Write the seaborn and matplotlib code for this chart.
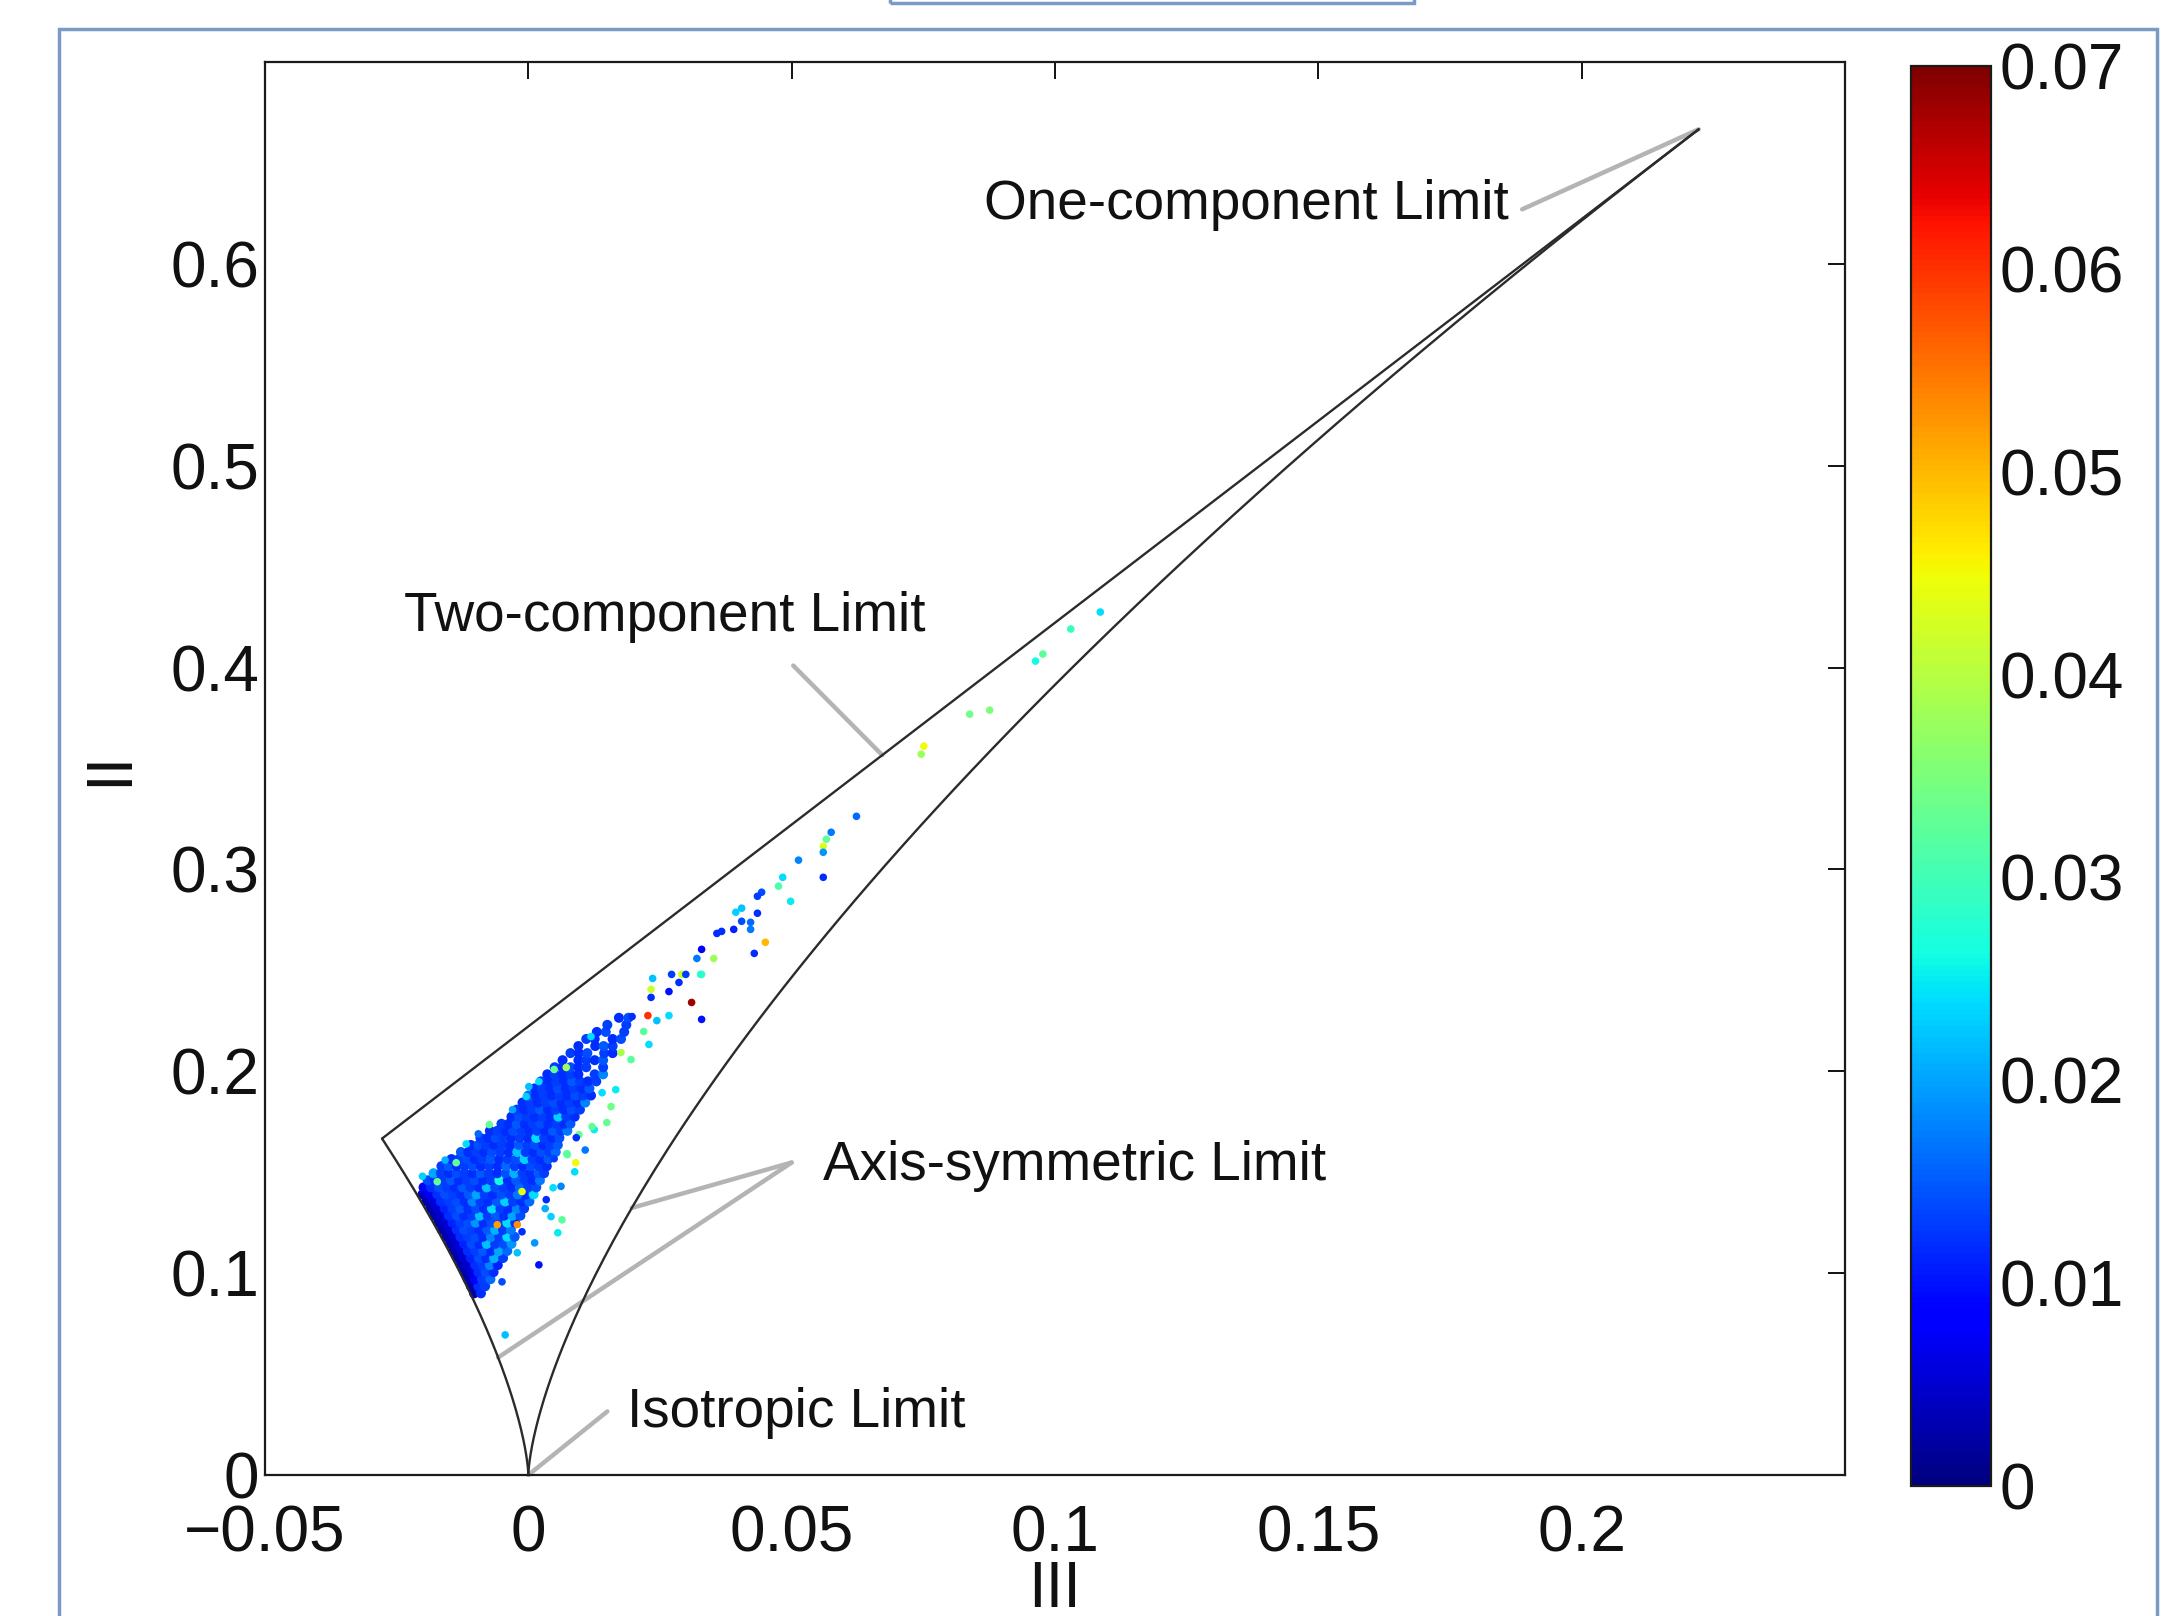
import numpy as np
import pandas as pd
import matplotlib
matplotlib.use("Agg")
import matplotlib.pyplot as plt
import seaborn as sns
from matplotlib.patches import Rectangle
from matplotlib.cm import ScalarMappable
from matplotlib.colors import Normalize

# Corners of the anisotropy-invariant map (III, II)
ISO = (0.0, 0.0)
TWO_C_AXI = (-1 / 36, 1 / 6)
ONE_C = (2 / 9, 2 / 3)

# Dense part of the cloud, row by row: II level, III positions (x1e-3), colour values (x1e-3)
core_II = [0.0900, 0.0935, 0.0970, 0.1005, 0.1040, 0.1075, 0.1110, 0.1145, 0.1180, 0.1215,
           0.1250, 0.1285, 0.1320, 0.1355, 0.1390, 0.1425, 0.1460, 0.1495, 0.1530, 0.1565,
           0.1600, 0.1635, 0.1670, 0.1705, 0.1740, 0.1775, 0.1810, 0.1845, 0.1880, 0.1915,
           0.1950, 0.1985, 0.2020, 0.2055, 0.2090, 0.2125, 0.2160, 0.2195, 0.2230, 0.2265]
core_III = [
    [-10.3, -9.0],
    [-10.9, -9.5, -8.2],
    [-11.5, -10.2, -8.8, -7.2],
    [-12.1, -10.8, -9.5, -8.1, -6.6],
    [-12.8, -11.5, -10.1, -8.7, -7.3, -5.8],
    [-13.5, -12.2, -10.9, -9.4, -8.0, -6.5, -4.8],
    [-14.2, -12.9, -11.5, -10.1, -8.6, -7.1, -5.6, -4.0],
    [-14.9, -13.6, -12.2, -10.8, -9.3, -7.9, -6.3, -4.7, -3.2],
    [-15.6, -14.3, -12.9, -11.5, -10.0, -8.6, -7.1, -5.5, -4.0, -2.6],
    [-16.4, -15.0, -13.6, -12.2, -10.7, -9.3, -7.8, -6.3, -4.8, -3.3],
    [-17.1, -15.8, -14.4, -12.9, -11.4, -10.0, -8.5, -7.0, -5.5, -4.0, -2.5],
    [-17.9, -16.5, -15.1, -13.6, -12.2, -10.7, -9.2, -7.7, -6.2, -4.6, -3.0, -1.5],
    [-18.6, -17.3, -15.9, -14.4, -12.9, -11.4, -9.9, -8.4, -6.9, -5.3, -3.8, -2.2, -0.8],
    [-19.4, -18.0, -16.6, -15.1, -13.6, -12.1, -10.6, -9.1, -7.6, -6.0, -4.4, -2.9, -1.3, 0.2],
    [-20.1, -18.8, -17.3, -15.8, -14.3, -12.8, -11.3, -9.8, -8.3, -6.7, -5.1, -3.5, -2.0, -0.4, 1.0],
    [-19.9, -18.5, -17.0, -15.5, -14.0, -12.5, -11.0, -9.4, -7.9, -6.3, -4.7, -3.1, -1.6, 0.0, 1.5],
    [-19.1, -17.7, -16.2, -14.7, -13.2, -11.7, -10.2, -8.6, -7.1, -5.5, -3.9, -2.3, -0.7, 0.8, 2.2],
    [-18.0, -16.6, -15.1, -13.6, -12.1, -10.6, -9.0, -7.5, -5.9, -4.3, -2.7, -1.1, 0.4, 1.9, 3.0],
    [-16.5, -15.1, -13.6, -12.1, -10.5, -9.0, -7.4, -5.8, -4.2, -2.6, -1.0, 0.5, 2.0, 3.5],
    [-14.6, -13.2, -11.7, -10.2, -8.7, -7.1, -5.5, -3.9, -2.3, -0.7, 0.8, 2.3, 3.8],
    [-12.8, -11.4, -9.9, -8.4, -6.9, -5.3, -3.7, -2.1, -0.5, 1.0, 2.5, 4.0, 5.2],
    [-10.9, -9.5, -8.0, -6.5, -5.0, -3.4, -1.8, -0.2, 1.3, 2.8, 4.2, 5.6],
    [-9.1, -7.7, -6.2, -4.7, -3.2, -1.6, 0.0, 1.5, 3.0, 4.5, 5.9],
    [-7.3, -5.9, -4.4, -2.9, -1.3, 0.2, 1.7, 3.2, 4.7, 6.2, 7.4],
    [-5.1, -3.7, -2.2, -0.7, 0.8, 2.3, 3.8, 5.3, 6.8, 8.0],
    [-3.2, -1.8, -0.3, 1.2, 2.7, 4.2, 5.7, 7.2, 8.8],
    [-2.2, -0.8, 0.7, 2.2, 3.7, 5.2, 6.7, 8.2, 9.8],
    [-1.1, 0.3, 1.8, 3.3, 4.8, 6.3, 7.8, 9.3, 10.8],
    [0.0, 1.4, 2.9, 4.4, 5.9, 7.4, 8.9, 10.4, 11.9],
    [1.2, 2.6, 4.1, 5.6, 7.1, 8.6, 10.1, 11.6],
    [2.4, 3.8, 5.3, 6.8, 8.3, 9.8, 11.3, 12.9],
    [3.6, 5.0, 6.5, 8.0, 9.5, 12.6, 14.2],
    [5.0, 6.5, 8.0, 9.5, 11.0, 14.2],
    [6.5, 9.5, 11.0, 12.6, 14.2],
    [8.0, 9.6, 11.2, 14.4, 16.0],
    [9.5, 12.7, 14.3, 16.0],
    [11.0, 12.6, 16.0, 17.6],
    [13.0, 14.7, 18.2],
    [15.0, 18.6],
    [17.2, 19.0],
]
core_val = [
    [3, 12],
    [3, 12, 13],
    [3, 8, 13, 16],
    [3, 6, 12, 14, 12],
    [3, 5, 12, 13, 18, 11],
    [3, 5, 11, 14, 12, 21, 13],
    [3, 5, 12, 13, 15, 12, 20, 16],
    [3, 5, 11, 14, 12, 22, 13, 14, 19],
    [3, 5, 12, 13, 14, 12, 18, 13, 24, 15],
    [3, 5, 12, 14, 13, 12, 15, 21, 13, 17],
    [3, 5, 11, 13, 14, 19, 12, 14, 13, 24, 12],
    [3, 5, 12, 14, 12, 13, 22, 13, 15, 12, 20, 14],
    [3, 5, 11, 13, 15, 12, 14, 12, 24, 13, 12, 18, 13],
    [3, 6, 12, 13, 14, 12, 18, 13, 12, 15, 23, 13, 12, 16],
    [4, 7, 12, 14, 13, 12, 15, 20, 13, 12, 14, 13, 17, 12, 24],
    [9, 12, 14, 13, 12, 15, 13, 12, 22, 14, 13, 12, 16, 13, 14],
    [14, 12, 13, 15, 12, 13, 14, 12, 13, 26, 12, 15, 13, 12, 17],
    [20, 13, 12, 14, 13, 12, 15, 13, 12, 14, 21, 13, 12, 15, 13],
    [13, 15, 12, 13, 14, 12, 13, 12, 16, 13, 12, 14, 13, 12],
    [12, 13, 14, 12, 13, 15, 12, 13, 14, 23, 13, 12, 15],
    [15, 12, 13, 12, 14, 13, 12, 22, 13, 12, 14, 13, 16],
    [12, 14, 13, 12, 13, 12, 15, 13, 14, 12, 13, 15],
    [13, 12, 14, 13, 12, 13, 12, 24, 13, 12, 14],
    [12, 13, 12, 14, 13, 12, 13, 12, 15, 13, 17],
    [13, 12, 15, 12, 13, 14, 12, 13, 12, 15],
    [12, 14, 13, 12, 13, 12, 23, 13, 12],
    [13, 12, 13, 15, 12, 13, 12, 14, 13],
    [12, 13, 12, 13, 14, 12, 13, 12, 18],
    [16, 12, 13, 12, 13, 12, 14, 13, 12],
    [12, 13, 12, 14, 12, 13, 12, 15],
    [13, 12, 13, 12, 15, 13, 12, 13],
    [12, 13, 12, 13, 12, 13, 18],
    [13, 12, 14, 12, 13, 13],
    [12, 12, 13, 12, 15],
    [13, 12, 14, 13, 12],
    [12, 12, 15, 13],
    [13, 12, 12, 14],
    [12, 14, 13],
    [13, 13],
    [12, 14],
]

# Scattered points in and around the dense cloud
speck_III = [-0.0059, -0.0021, 0.0090, 0.0088, 0.0073, 0.0064, 0.0056, 0.0043, -0.0021, 0.0020,
             -0.0050, 0.0034, 0.0047, 0.0149, 0.0125, 0.0096, 0.0049, 0.0091, -0.0012, -0.0012,
             -0.0137, -0.0173, -0.0074, 0.0049, 0.0072, 0.0176, 0.0195, 0.0157, 0.0121, 0.0140,
             0.0166, -0.0004, 0.0001, 0.0020, 0.0119, 0.0074, -0.0044, -0.0158, -0.0118, -0.0095,
             -0.0201, 0.0012, 0.0032, 0.0108, -0.0030, 0.0062]
speck_II = [0.1240, 0.1240, 0.1547, 0.1502, 0.1592, 0.1264, 0.1200, 0.1280, 0.1101, 0.1041,
            0.0957, 0.1364, 0.1423, 0.1746, 0.1711, 0.1686, 0.1567, 0.1671, 0.1205, 0.1404,
            0.1547, 0.1453, 0.1736, 0.2009, 0.2019, 0.2093, 0.2058, 0.1825, 0.1726, 0.1894,
            0.1909, 0.1875, 0.1924, 0.1949, 0.2172, 0.1587, 0.0694, 0.1560, 0.1640, 0.1690,
            0.1480, 0.1150, 0.1320, 0.1610, 0.1810, 0.1430]
speck_val = [0.052, 0.053, 0.045, 0.024, 0.033, 0.032, 0.025, 0.023, 0.022, 0.010,
             0.014, 0.012, 0.024, 0.033, 0.025, 0.033, 0.013, 0.012, 0.012, 0.044,
             0.033, 0.033, 0.033, 0.033, 0.038, 0.039, 0.032, 0.034, 0.033, 0.024,
             0.025, 0.023, 0.022, 0.024, 0.024, 0.032, 0.022, 0.021, 0.024, 0.016,
             0.023, 0.019, 0.021, 0.017, 0.020, 0.018]

# Sparse tail towards the one-component corner
tail_III = [0.0623, 0.0575, 0.0566, 0.0560, 0.0560, 0.0513, 0.0560, 0.0483, 0.0475, 0.0498,
            0.0443, 0.0435, 0.0405, 0.0394, 0.0435, 0.0405, 0.0422, 0.0422, 0.0390, 0.0367,
            0.0358, 0.0450, 0.0429, 0.0329, 0.0320, 0.0352, 0.0329, 0.0236, 0.0272, 0.0291,
            0.0299, 0.0286, 0.0267, 0.0233, 0.0233, 0.0310, 0.0329, 0.0227, 0.0267, 0.0244,
            0.0219, 0.0229, 0.0197, 0.0327, 0.0751, 0.0746, 0.0838, 0.0876, 0.0963, 0.0977,
            0.1030, 0.1086]
tail_II = [0.3263, 0.3184, 0.3150, 0.3115, 0.3085, 0.3046, 0.2961, 0.2961, 0.2917, 0.2842,
           0.2887, 0.2867, 0.2808, 0.2788, 0.2783, 0.2743, 0.2738, 0.2703, 0.2703, 0.2693,
           0.2683, 0.2639, 0.2584, 0.2604, 0.2559, 0.2559, 0.2480, 0.2460, 0.2480, 0.2480,
           0.2480, 0.2440, 0.2395, 0.2366, 0.2406, 0.2341, 0.2257, 0.2276, 0.2276, 0.2251,
           0.2197, 0.2133, 0.2271, 0.2480, 0.3611, 0.3571, 0.3769, 0.3789, 0.4032, 0.4067,
           0.4191, 0.4275]
tail_val = [0.016, 0.017, 0.033, 0.043, 0.019, 0.018, 0.012, 0.024, 0.031, 0.025,
            0.014, 0.013, 0.022, 0.023, 0.012, 0.014, 0.016, 0.017, 0.011, 0.012,
            0.012, 0.050, 0.012, 0.008, 0.017, 0.038, 0.029, 0.022, 0.013, 0.042,
            0.013, 0.012, 0.010, 0.012, 0.042, 0.068, 0.010, 0.060, 0.024, 0.022,
            0.032, 0.024, 0.012, 0.028, 0.045, 0.038, 0.034, 0.035, 0.026, 0.032,
            0.029, 0.024]

x_ticks = [-0.05, 0.0, 0.05, 0.1, 0.15, 0.2]
x_ticklabels = ["\u22120.05", "0", "0.05", "0.1", "0.15", "0.2"]
y_ticks = [0.0, 0.1, 0.2, 0.3, 0.4, 0.5, 0.6]
y_ticklabels = ["0", "0.1", "0.2", "0.3", "0.4", "0.5", "0.6"]
c_ticks = [0.0, 0.01, 0.02, 0.03, 0.04, 0.05, 0.06, 0.07]
c_ticklabels = ["0", "0.01", "0.02", "0.03", "0.04", "0.05", "0.06", "0.07"]
VMIN, VMAX = 0.0, 0.07
CMAP = matplotlib.colormaps["jet"]

# ---------------------------------------------------------------- data frames
core_rows = []
for ii, xs, vs in zip(core_II, core_III, core_val):
    for x, v in zip(xs, vs):
        core_rows.append((x * 1e-3, ii, v * 1e-3))
core_df = pd.DataFrame(core_rows, columns=["III", "II", "val"])
pts_df = pd.DataFrame({"III": speck_III + tail_III,
                       "II": speck_II + tail_II,
                       "val": speck_val + tail_val})

# ---------------------------------------------------------------- style
sns.set_theme(style="white")
plt.rcParams["font.family"] = ["Liberation Sans", "DejaVu Sans"]
plt.rcParams["axes.unicode_minus"] = True

W, H = 2165, 1616
fig = plt.figure(figsize=(W / 100, H / 100), dpi=100)
fig.patch.set_facecolor("white")

ax = fig.add_axes([265 / W, 1 - 1475 / H, (1845 - 265) / W, (1475 - 62) / H])
cax = fig.add_axes([1911 / W, 1 - 1486 / H, 80 / W, (1486 - 66) / H])

# ---------------------------------------------------------------- boundaries
def axisym_left(n=200):
    a = np.linspace(0, 1 / 6, n)
    return -6 * a ** 3, 6 * a ** 2


def axisym_right(n=200):
    b = np.linspace(0, 1 / 3, n)
    return 6 * b ** 3, 6 * b ** 2


line_kw = dict(color="#2b2b2b", lw=1.7, zorder=4, solid_capstyle="round")
lx, ly = axisym_left()
rx, ry = axisym_right()
ax.plot(lx, ly, **line_kw)
ax.plot(rx, ry, **line_kw)
ax.plot([TWO_C_AXI[0], ONE_C[0]], [TWO_C_AXI[1], ONE_C[1]], **line_kw)

# ---------------------------------------------------------------- scatter
sc_kw = dict(x="III", y="II", hue="val", palette=CMAP, hue_norm=Normalize(VMIN, VMAX),
             linewidth=0, legend=False, ax=ax, zorder=3)
sns.scatterplot(data=core_df, s=52, **sc_kw)
sns.scatterplot(data=pts_df, s=30, **sc_kw)

# ---------------------------------------------------------------- labels
txt_kw = dict(fontsize=39.5, color="#111111", ha="left", va="baseline", zorder=5)
lead_kw = dict(arrowstyle="-", color="#b4b4b4", lw=3.2, shrinkA=0, shrinkB=0)

ax.text(0.0865, 0.622, "One-component Limit", **txt_kw)
ax.annotate("", xy=ONE_C, xytext=(0.1887, 0.627), arrowprops=lead_kw, zorder=2)

ax.text(-0.0236, 0.418, "Two-component Limit", **txt_kw)
t2 = 0.0672
ax.annotate("", xy=(t2, 2 / 9 + 2 * t2), xytext=(0.0503, 0.4010), arrowprops=lead_kw, zorder=2)

ax.text(0.0559, 0.146, "Axis-symmetric Limit", **txt_kw)
b_r = 0.1485
a_l = 0.0985
ax.annotate("", xy=(6 * b_r ** 3, 6 * b_r ** 2), xytext=(0.0500, 0.1548), arrowprops=lead_kw, zorder=2)
ax.annotate("", xy=(-6 * a_l ** 3, 6 * a_l ** 2), xytext=(0.0500, 0.1548), arrowprops=lead_kw, zorder=2)

ax.text(0.0188, 0.024, "Isotropic Limit", **txt_kw)
ax.annotate("", xy=ISO, xytext=(0.0150, 0.0315), arrowprops=lead_kw, zorder=2)

# ---------------------------------------------------------------- axes
ax.set_xlim(-0.05, 0.25)
ax.set_ylim(0, 0.7)
ax.set_xticks(x_ticks)
ax.set_xticklabels(x_ticklabels)
ax.set_yticks(y_ticks)
ax.set_yticklabels(y_ticklabels)
ax.tick_params(direction="in", length=12, width=1.4, top=True, right=True,
               labelsize=46, colors="#111111")
ax.tick_params(axis="y", pad=4)
ax.tick_params(axis="x", pad=21)
for sp in ax.spines.values():
    sp.set_visible(True)
    sp.set_color("#1a1a1a")
    sp.set_linewidth(1.6)
ax.set_xlabel("III", fontsize=46, labelpad=-3, color="#111111")
ax.set_ylabel("II", fontsize=46, labelpad=22, color="#111111")
ax.grid(False)

# ---------------------------------------------------------------- colour bar
sm = ScalarMappable(norm=Normalize(VMIN, VMAX), cmap=CMAP)
cbar = fig.colorbar(sm, cax=cax)
cbar.set_ticks(c_ticks)
cbar.set_ticklabels(c_ticklabels)
cax.tick_params(direction="in", length=10, width=1.2, left=True, right=True,
                labelsize=46, pad=6, colors="#111111")
cbar.outline.set_linewidth(1.6)
cbar.outline.set_edgecolor("#1a1a1a")

# ---------------------------------------------------------------- page frame
frame_col = "#7b9bc6"
fig.patches.append(Rectangle((59 / W, -0.05), (2157 - 59) / W, 1 - 29 / H + 0.05,
                             transform=fig.transFigure, fill=False,
                             edgecolor=frame_col, lw=2.5, zorder=0))
fig.patches.append(Rectangle((890 / W, 1 - 3 / H), (1414 - 890) / W, 0.05,
                             transform=fig.transFigure, fill=False,
                             edgecolor=frame_col, lw=2.5, zorder=0))

fig.savefig("out.png", dpi=100, facecolor="white")
